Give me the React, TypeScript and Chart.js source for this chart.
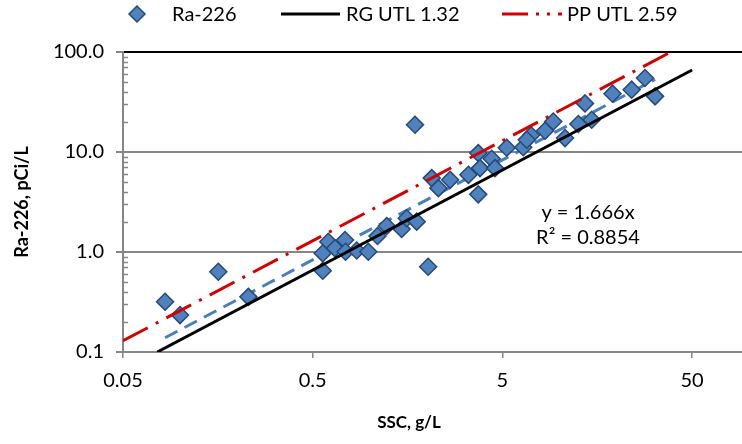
import React, { useEffect, useRef } from 'react';
import { Chart, registerables } from 'chart.js';

Chart.register(...registerables);

// ---- Data ----
const sscValues = [
  0.0833, 0.0999, 0.159, 0.229, 0.565, 0.604, 0.565, 0.655, 0.74, 0.745,
  0.853, 0.982, 1.098, 1.228, 1.472, 1.565, 1.767, 1.731, 3.73, 2.12,
  2.3, 2.65, 3.31, 3.81, 4.39, 4.57, 3.73, 5.27, 6.44, 7.08,
  6.72, 8.39, 9.27, 10.69, 12.57, 14.78, 13.62, 19.03, 24.0, 28.2,
  31.9, 2.03,
];
const ra226Values = [
  0.318, 0.234, 0.635, 0.356, 0.65, 1.268, 0.97, 1.089, 1.319, 1.007,
  1.035, 1.007, 1.446, 1.822, 1.7, 2.176, 2.012, 18.73, 9.75, 5.48,
  4.35, 5.27, 5.91, 6.9, 8.55, 6.9, 3.77, 11.02, 11.15, 14.7,
  13.25, 16.31, 20.21, 13.78, 19.04, 21.02, 30.62, 38.3, 42.0, 55.0,
  36.0, 0.712,
];

const rgUtlX = [0.0758, 50];
const rgUtlY = [0.1, 66.0];
const ppUtlX = [0.05, 50];
const ppUtlY = [0.1295, 129.5];
const trendX = [0.0833, 31.9];
const trendY = [0.1388, 53.15];

const xTickValues = [0.05, 0.5, 5, 50];
const yTickValues = [0.1, 1, 10, 100];
const yMinorDecades = [0.1, 1, 10];

const seriesLabels = ['Ra-226', 'RG UTL 1.32', 'PP UTL 2.59', 'Linear (Ra-226)'];
const trendEquation = 'y = 1.666x';
const trendR2 = 'R² = 0.8854';
const xTitle = 'SSC, g/L';
const yTitle = 'Ra-226, pCi/L';

const FONT = 'Lato, "Open Sans", "DejaVu Sans", sans-serif';
const TEXT_SIZE = 20;
const AXIS_GRAY = '#868686';
const MARKER_FILL = '#4F81BD';
const MARKER_BORDER = '#254A78';
const TREND_BLUE = '#4A7EBB';
const RED = '#D00000';

const toXY = (xs: number[], ys: number[]) => xs.map((x, i) => ({ x, y: ys[i] }));

const minorTicksPlugin = {
  id: 'minorTicks',
  afterDraw(chart: any) {
    const y = chart.scales.y;
    const ctx = chart.ctx;
    ctx.save();
    ctx.strokeStyle = AXIS_GRAY;
    ctx.lineWidth = 1.5;
    yMinorDecades.forEach((d) => {
      for (let k = 2; k <= 9; k++) {
        const py = Math.round(y.getPixelForValue(d * k)) + 0.5;
        ctx.beginPath();
        ctx.moveTo(chart.chartArea.left, py);
        ctx.lineTo(chart.chartArea.left + 5, py);
        ctx.stroke();
      }
    });
    ctx.restore();
  },
};

const legendAndTextPlugin = {
  id: 'legendAndText',
  afterDraw(chart: any) {
    const ctx = chart.ctx;
    const ds = chart.data.datasets;
    const ly = 14;
    ctx.save();
    ctx.font = `${TEXT_SIZE}px ${FONT}`;
    ctx.fillStyle = '#000';
    ctx.textBaseline = 'middle';
    ctx.textAlign = 'left';

    // diamond
    ctx.beginPath();
    ctx.moveTo(137 - 8, ly);
    ctx.lineTo(137, ly - 8);
    ctx.lineTo(137 + 8, ly);
    ctx.lineTo(137, ly + 8);
    ctx.closePath();
    ctx.fillStyle = MARKER_FILL;
    ctx.fill();
    ctx.strokeStyle = MARKER_BORDER;
    ctx.lineWidth = 1.5;
    ctx.stroke();
    ctx.fillStyle = '#000';
    ctx.fillText(ds[0].label, 172, ly + 1);

    // black line
    ctx.beginPath();
    ctx.strokeStyle = '#000';
    ctx.lineWidth = 3;
    ctx.moveTo(281, ly);
    ctx.lineTo(340, ly);
    ctx.stroke();
    ctx.fillText(ds[1].label, 346, ly + 1);

    // red dash-dot
    ctx.beginPath();
    ctx.strokeStyle = RED;
    ctx.lineWidth = 3;
    ctx.setLineDash([26, 8, 3, 8, 3, 8]);
    ctx.moveTo(502, ly);
    ctx.lineTo(562, ly);
    ctx.stroke();
    ctx.setLineDash([]);
    ctx.fillText(ds[2].label, 567, ly + 1);

    // trendline annotation
    ctx.textAlign = 'center';
    ctx.fillText(trendEquation, 588, 213);
    ctx.fillText(trendR2, 588, 238);

    // x title
    ctx.font = `bold 17px ${FONT}`;
    ctx.fillText(xTitle, 409, 423);
    ctx.restore();
  },
};

export default function App() {
  const canvasRef = useRef<HTMLCanvasElement | null>(null);

  useEffect(() => {
    document.body.style.margin = '0';
    const canvas = canvasRef.current;
    if (!canvas) return;
    Chart.defaults.font.family = FONT;
    Chart.defaults.color = '#000';

    const chart = new Chart(canvas, {
      type: 'scatter',
      data: {
        datasets: [
          {
            label: seriesLabels[0],
            data: toXY(sscValues, ra226Values),
            pointStyle: 'rectRot',
            pointRadius: 8.5,
            pointHoverRadius: 8.5,
            backgroundColor: MARKER_FILL,
            borderColor: MARKER_BORDER,
            borderWidth: 1.5,
            showLine: false,
            order: 1,
          },
          {
            label: seriesLabels[1],
            data: toXY(rgUtlX, rgUtlY),
            showLine: true,
            pointRadius: 0,
            borderColor: '#000',
            borderWidth: 3,
            order: 0,
          },
          {
            label: seriesLabels[2],
            data: toXY(ppUtlX, ppUtlY),
            showLine: true,
            pointRadius: 0,
            borderColor: RED,
            borderWidth: 3,
            borderDash: [28, 9, 3, 9],
            order: 0,
          },
          {
            label: seriesLabels[3],
            data: toXY(trendX, trendY),
            showLine: true,
            pointRadius: 0,
            borderColor: TREND_BLUE,
            borderWidth: 3,
            borderDash: [14, 8],
            order: 2,
          },
        ],
      },
      options: {
        responsive: false,
        animation: false,
        events: [],
        layout: { autoPadding: false, padding: { top: 52, left: 0, right: 0, bottom: 0 } },
        plugins: {
          legend: { display: false },
          tooltip: { enabled: false },
        },
        scales: {
          x: {
            type: 'logarithmic',
            min: 0.05,
            max: 91.6,
            afterBuildTicks: (s: any) => {
              s.ticks = xTickValues.map((v) => ({ value: v }));
            },
            afterFit: (s: any) => {
              s.height = 92;
            },
            ticks: {
              callback: (v: any) => String(v),
              font: { size: TEXT_SIZE, family: FONT },
              color: '#000',
              padding: 11,
              autoSkip: false,
              maxRotation: 0,
            },
            grid: {
              drawOnChartArea: false,
              color: AXIS_GRAY,
              tickColor: AXIS_GRAY,
              tickLength: 6,
              lineWidth: 1.5,
            },
            border: { color: AXIS_GRAY, width: 2 },
          },
          y: {
            type: 'logarithmic',
            min: 0.1,
            max: 100,
            afterBuildTicks: (s: any) => {
              s.ticks = yTickValues.map((v) => ({ value: v }));
            },
            afterFit: (s: any) => {
              s.width = 123;
            },
            ticks: {
              callback: (v: any) => Number(v).toFixed(1),
              font: { size: TEXT_SIZE, family: FONT },
              color: '#000',
              padding: 12,
              autoSkip: false,
            },
            grid: {
              color: (c: any) => (c.tick && Math.abs(c.tick.value - 100) < 1e-6 ? '#000' : AXIS_GRAY),
              tickColor: AXIS_GRAY,
              tickLength: 7,
              lineWidth: 2,
            },
            border: { color: AXIS_GRAY, width: 2 },
            title: {
              display: true,
              text: yTitle,
              font: { size: 18, weight: 'bold', family: FONT },
              color: '#000',
              padding: { top: 11, bottom: 0 },
            },
          },
        },
      },
      plugins: [minorTicksPlugin, legendAndTextPlugin],
    } as any);

    return () => {
      chart.destroy();
    };
  }, []);

  return (
    <div style={{ width: 742, height: 444 }}>
      <canvas ref={canvasRef} width={742} height={444} style={{ display: 'block' }} />
    </div>
  );
}
